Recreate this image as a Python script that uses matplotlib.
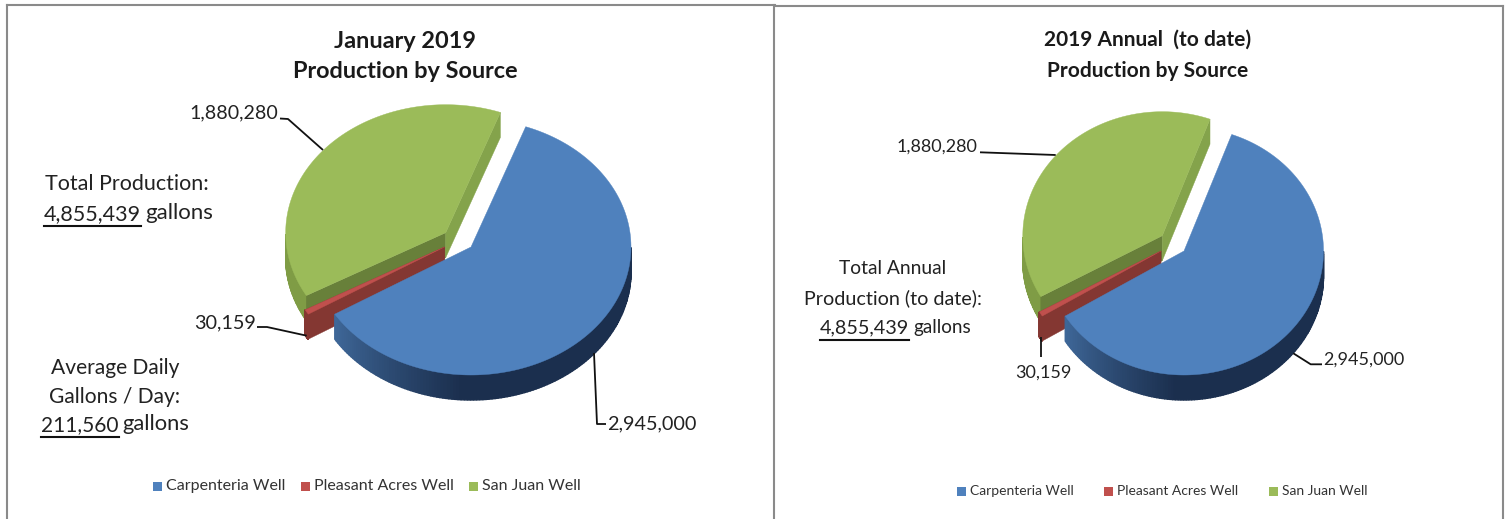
import numpy as np
import matplotlib
matplotlib.use('Agg')
import matplotlib.pyplot as plt
from matplotlib.patches import Polygon, Rectangle

plt.rcParams['font.family'] = ['Lato', 'DejaVu Sans']

wells = ['Carpenteria Well', 'Pleasant Acres Well', 'San Juan Well']
gallons = [2945000, 30159, 1880280]
value_labels = ['2,945,000', '30,159', '1,880,280']

month_title = ['January 2019', 'Production by Source']
annual_title = ['2019 Annual  (to date)', 'Production by Source']

top_colors = ['#4f81bd', '#c0504d', '#9bbb59']
cut_colors = ['#3b5f8e', '#843732', '#68803a']
rim_colors = ['#1b2f4e', '#843732', '#7f9c45']

FIRST_ANGLE = 20  # clockwise from twelve o'clock


def slice_angles():
    # start/end of every slice, clockwise from the top, in degrees
    shares = np.array(gallons) / sum(gallons) * 360
    ends = FIRST_ANGLE + np.cumsum(shares)
    starts = ends - shares
    return starts, ends


def rim_point(cx, cy, rx, ry, ang):
    a = np.radians(ang)
    return cx + rx * np.sin(a), cy - ry * np.cos(a)


def add_poly(ax, pts, color, z, lw=0.3):
    ax.add_patch(Polygon(pts, closed=True, fc=color, ec=color, lw=lw, zorder=z))


def draw_slice(ax, i, apex, rx, ry, depth, z):
    cx, cy = apex
    start, end = slice_angles()
    a0, a1 = start[i], end[i]
    angs = np.linspace(a0, a1, 200)
    xs, ys = rim_point(cx, cy, rx, ry, angs)

    # outer wall, only the part facing the viewer
    front = (angs % 360 > 90) & (angs % 360 < 270)
    idx = np.where(front)[0]
    # painted from the right so each strip overlaps the previous one
    for k in idx[:-1]:
        if i == 0:
            # the blue wall fades from mid blue at its left end to navy
            t = np.clip((a1 - angs[k]) / 55, 0, 1)
            col = np.array([0x3f, 0x68, 0x99]) * (1 - t) + np.array([0x1b, 0x2f, 0x4e]) * t
            col = col / 255
        else:
            col = rim_colors[i]
        add_poly(ax, [(xs[k], ys[k]), (xs[k + 1], ys[k + 1]),
                      (xs[k + 1], ys[k + 1] + depth), (xs[k], ys[k] + depth)], col, z, lw=1.0)

    # flat cut faces
    if i != 0:
        for edge in [0, -1]:
            shade = cut_colors[i]
            if i == 2 and edge == -1:
                shade = '#84a34b'
            add_poly(ax, [(cx, cy), (xs[edge], ys[edge]),
                          (xs[edge], ys[edge] + depth), (cx, cy + depth)], shade, z)

    # top surface
    add_poly(ax, list(zip(xs, ys)) + [(cx, cy)], top_colors[i], z + 0.5)


def draw_pie(ax, apexes, rx, ry, depth):
    # back to front: green, red, blue
    draw_slice(ax, 2, apexes[2], rx, ry, depth, 2)
    draw_slice(ax, 1, apexes[1], rx, ry, depth, 3)
    draw_slice(ax, 0, apexes[0], rx, ry, depth, 4)


def leader(ax, xs, ys):
    ax.plot(xs, ys, color='#111111', lw=1.3, zorder=6, solid_capstyle='butt')


def underlined(ax, x, y, number, suffix, size, suffix_size):
    # number with a rule under it, followed by the unit
    t = ax.text(x, y, number, fontsize=size, color='#222222', va='center', ha='left')
    bb = t.get_window_extent(ax.figure.canvas.get_renderer())
    x2 = x + bb.width
    ax.plot([x, x2], [y + 12, y + 12], color='#111111', lw=1.5)
    ax.text(x2 + 4, y - 1, suffix, fontsize=suffix_size, color='#222222', va='center', ha='left')


fig = plt.figure(figsize=(15.11, 5.19), dpi=100)
ax = fig.add_axes([0, 0, 1, 1])
ax.set_xlim(0, 1511)
ax.set_ylim(519, 0)
ax.axis('off')

# chart frames
frame = '#8a8a8a'
ax.plot([7, 7], [5, 519], color=frame, lw=1.5)
ax.plot([7, 775], [5, 5], color=frame, lw=1.5)
ax.plot([774, 774], [5, 519], color=frame, lw=1.5)
ax.plot([775, 1503], [6, 6], color=frame, lw=1.5)
ax.plot([1503, 1503], [6, 519], color=frame, lw=1.5)

# January chart
ax.text(405.5, 41, month_title[0], fontsize=16.9, fontweight='bold', ha='center', va='center', color='#1a1a1a')
ax.text(405.5, 72, month_title[1], fontsize=16.9, fontweight='bold', ha='center', va='center', color='#1a1a1a')
draw_pie(ax, [(471, 247), (444.5, 247), (445.7, 232.7)], 160, 128, 25)

leader(ax, [280, 288, 323], [118.5, 119, 150])
leader(ax, [257, 267, 306.7], [327, 327, 335.7])
leader(ax, [594, 597, 606], [353, 424, 424])
ax.text(278, 113, value_labels[2], fontsize=14.1, ha='right', va='center', color='#222222')
ax.text(256, 323, value_labels[1], fontsize=14.3, ha='right', va='center', color='#222222')
ax.text(607, 424, value_labels[0], fontsize=14.3, ha='left', va='center', color='#222222')

ax.text(45, 184, 'Total Production:', fontsize=15.5, ha='left', va='center', color='#222222')
underlined(ax, 44, 214, '4,855,439', 'gallons', 15.5, 16)
ax.text(115.5, 368, 'Average Daily', fontsize=15.1, ha='center', va='center', color='#222222')
ax.text(115, 397, 'Gallons / Day:', fontsize=15.1, ha='center', va='center', color='#222222')
underlined(ax, 41, 425, '211,560', 'gallons', 15, 15.8)

# year to date chart
ax.text(1147.5, 40, annual_title[0], fontsize=15, fontweight='bold', ha='center', va='center', color='#1a1a1a')
ax.text(1147.5, 71, annual_title[1], fontsize=15, fontweight='bold', ha='center', va='center', color='#1a1a1a')
draw_pie(ax, [(1184, 251), (1161, 251), (1162.3, 235.7)], 139.5, 124, 25)

leader(ax, [980, 1055.7], [152.3, 155])
leader(ax, [1040.7, 1040.7], [336.7, 356.7])
leader(ax, [1293.3, 1310.7, 1322], [353.3, 364.3, 364.3])
ax.text(977, 147, value_labels[2], fontsize=13, ha='right', va='center', color='#222222')
ax.text(1043, 373, value_labels[1], fontsize=13, ha='center', va='center', color='#222222')
ax.text(1323, 360, value_labels[0], fontsize=13, ha='left', va='center', color='#222222')

ax.text(893, 269, 'Total Annual', fontsize=13.9, ha='center', va='center', color='#222222')
ax.text(893.5, 298, 'Production (to date):', fontsize=14.2, ha='center', va='center', color='#222222')
underlined(ax, 820, 328, '4,855,439', 'gallons', 14.2, 13.6)

# legends
legends = [([153, 301, 469], 486, 11.5), ([957, 1104, 1269], 491, 10)]
for swatch_x, y, size in legends:
    for sx, name, col in zip(swatch_x, wells, top_colors):
        ax.add_patch(Rectangle((sx, y - 4.5), 9, 9, fc=col, ec='none'))
        ax.text(sx + 13, y, name, fontsize=size, ha='left', va='center', color='#333333')

fig.savefig('out.png', dpi=100)
